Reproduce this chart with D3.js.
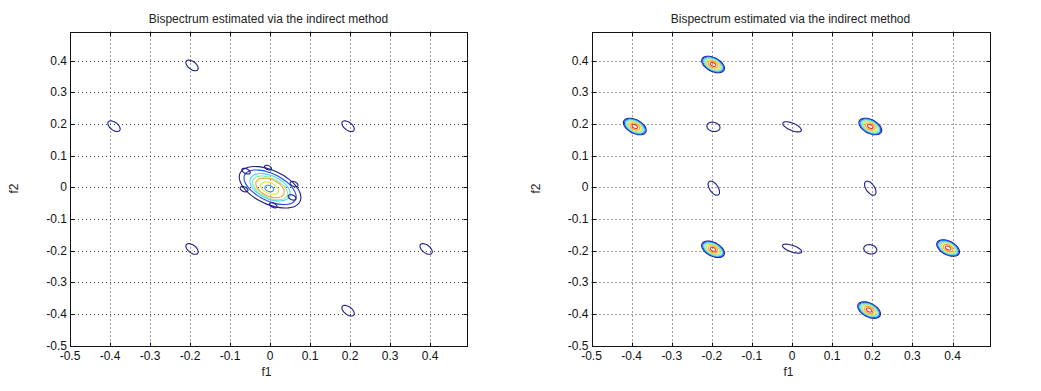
<!DOCTYPE html>
<html><head><meta charset="utf-8">
<script src="https://cdn.jsdelivr.net/npm/d3@7"></script>
<style>
body{margin:0;background:#fff;}
svg{display:block;font-family:"Liberation Sans",Arial,Helvetica,sans-serif;}
</style>
</head><body>
<svg id="chart" width="1041" height="391"></svg>
<script>
// ---------- data ----------
const freqDomain = [-0.5, 0.4921875];
const xTicks = [-0.5, -0.4, -0.3, -0.2, -0.1, 0, 0.1, 0.2, 0.3, 0.4];
const yTicks = [-0.5, -0.4, -0.3, -0.2, -0.1, 0, 0.1, 0.2, 0.3, 0.4];
const tickLabels = ["-0.5", "-0.4", "-0.3", "-0.2", "-0.1", "0", "0.1", "0.2", "0.3", "0.4"];
const titleText = "Bispectrum estimated via the indirect method";
const xLabel = "f1";
const yLabel = "f2";
// contour level colours (jet)
const levelColors = ["#1e1e8c", "#2448ff", "#3a96ff", "#40d8f8", "#86eea6", "#e2e256", "#ff9c34", "#e83a22"];

// contour rings: [f1 centre, f2 centre, semi-axis a, semi-axis b, rotation (deg, data space), level]
const leftRings = [
  // central peak
  [0.000, 0.000, 0.088, 0.050, -36, 0],
  [0.000, 0.000, 0.075, 0.040, -36, 1],
  [0.000, 0.000, 0.057, 0.034, -36, 3],
  [0.000, -0.002, 0.050, 0.029, -36, 4],
  [0.000, -0.002, 0.040, 0.025, -36, 6],
  [-0.001, -0.003, 0.025, 0.016, -36, 5],
  [-0.002, -0.004, 0.012, 0.009, -36, 2],
  // small lobes around the central peak
  [-0.060, 0.051, 0.012, 0.007, -36, 0],
  [-0.065, -0.006, 0.011, 0.007, -36, 0],
  [-0.005, 0.062, 0.010, 0.006, -36, 0],
  [0.060, 0.010, 0.011, 0.007, -36, 0],
  [0.055, -0.032, 0.011, 0.007, -36, 0],
  [0.008, -0.057, 0.011, 0.006, -36, 0],
  // weak peaks
  [-0.195, 0.385, 0.020, 0.011, -50, 0],
  [-0.390, 0.193, 0.020, 0.011, -50, 0],
  [0.195, 0.193, 0.020, 0.011, -50, 0],
  [-0.195, -0.195, 0.020, 0.011, -50, 0],
  [0.390, -0.195, 0.020, 0.011, -50, 0],
  [0.195, -0.390, 0.020, 0.011, -50, 0]
];

const strongPeaks = [[-0.197, 0.388], [-0.392, 0.192], [0.195, 0.192], [-0.197, -0.196], [0.389, -0.192], [0.192, -0.388]];
const strongRingA = [0.033, 0.030, 0.027, 0.023, 0.019, 0.014, 0.008];
const strongRingB = [0.020, 0.018, 0.016, 0.014, 0.012, 0.009, 0.005];
const strongRingLevel = [0, 1, 3, 4, 5, 6, 7];

const rightWeakRings = [
  [-0.196, 0.191, 0.017, 0.014, -30, 0],
  [0.000, 0.191, 0.026, 0.011, -30, 0],
  [-0.195, -0.003, 0.024, 0.011, -65, 0],
  [0.195, -0.003, 0.024, 0.011, -65, 0],
  [0.000, -0.194, 0.026, 0.010, -25, 0],
  [0.195, -0.196, 0.017, 0.014, -30, 0]
];

// ---------- build ----------
const rightRings = rightWeakRings.slice();
strongPeaks.forEach(p => {
  strongRingA.forEach((a, i) => rightRings.push([p[0], p[1], a, strongRingB[i], -40, strongRingLevel[i]]));
});

const svg = d3.select("#chart");
const panels = [
  {x0: 70, x1: 467, rings: leftRings},
  {x0: 591.5, x1: 989.5, rings: rightRings}
];
const plotTop = 31.5, plotBottom = 345.5;

panels.forEach(p => {
  const x = d3.scaleLinear().domain(freqDomain).range([p.x0, p.x1]);
  const y = d3.scaleLinear().domain(freqDomain).range([plotBottom, plotTop]);
  const g = svg.append("g");

  // grid (dotted)
  const grid = g.append("g").attr("stroke", "#000").attr("stroke-width", 1)
    .attr("stroke-dasharray", "1,3").attr("opacity", 0.75);
  xTicks.slice(1).forEach(t => {
    const px = Math.round(x(t)) + 0.5;
    grid.append("line").attr("x1", px).attr("x2", px).attr("y1", plotTop).attr("y2", plotBottom);
  });
  yTicks.slice(1).forEach(t => {
    const py = Math.round(y(t)) + 0.5;
    grid.append("line").attr("x1", p.x0).attr("x2", p.x1).attr("y1", py).attr("y2", py);
  });

  // contours
  const line = d3.line().x(d => x(d[0])).y(d => y(d[1])).curve(d3.curveCardinalClosed);
  const cg = g.append("g").attr("fill", "none").attr("stroke-width", 1.1);
  p.rings.forEach(r => {
    const [cx, cy, a, b, ang, lev] = r;
    const th = ang * Math.PI / 180;
    const pts = d3.range(0, 48).map(i => {
      const t = i / 48 * 2 * Math.PI;
      const u = a * Math.cos(t), v = b * Math.sin(t);
      return [cx + u * Math.cos(th) - v * Math.sin(th), cy + u * Math.sin(th) + v * Math.cos(th)];
    });
    cg.append("path").attr("d", line(pts)).attr("stroke", levelColors[lev]);
  });

  // frame
  const fx0 = Math.round(p.x0) + 0.5, fx1 = Math.round(p.x1) + 0.5;
  const fy0 = Math.round(plotTop) + 0.5, fy1 = Math.round(plotBottom) + 0.5;
  g.append("rect").attr("x", fx0).attr("y", fy0).attr("width", fx1 - fx0).attr("height", fy1 - fy0)
    .attr("fill", "none").attr("stroke", "#111").attr("stroke-width", 1);

  // ticks (inward, all sides)
  const tk = g.append("g").attr("stroke", "#111").attr("stroke-width", 1);
  xTicks.forEach(t => {
    const px = Math.round(x(t)) + 0.5;
    tk.append("line").attr("x1", px).attr("x2", px).attr("y1", fy1).attr("y2", fy1 - 4);
    tk.append("line").attr("x1", px).attr("x2", px).attr("y1", fy0).attr("y2", fy0 + 4);
  });
  yTicks.forEach(t => {
    const py = Math.round(y(t)) + 0.5;
    tk.append("line").attr("x1", fx0).attr("x2", fx0 + 4).attr("y1", py).attr("y2", py);
    tk.append("line").attr("x1", fx1).attr("x2", fx1 - 4).attr("y1", py).attr("y2", py);
  });

  // tick labels
  const lab = g.append("g").attr("font-size", 12).attr("fill", "#111");
  xTicks.forEach((t, i) => {
    lab.append("text").attr("x", x(t)).attr("y", 360).attr("text-anchor", "middle").text(tickLabels[i]);
  });
  yTicks.forEach((t, i) => {
    lab.append("text").attr("x", p.x0 - 3).attr("y", y(t) + 4).attr("text-anchor", "end").text(tickLabels[i]);
  });

  // titles / axis labels
  const cxm = (p.x0 + p.x1) / 2;
  g.append("text").attr("x", cxm).attr("y", 23).attr("text-anchor", "middle")
    .attr("font-size", 12).attr("fill", "#222").text(titleText);
  g.append("text").attr("x", cxm - 2).attr("y", 376).attr("text-anchor", "middle")
    .attr("font-size", 12).attr("fill", "#222").text(xLabel);
  g.append("text").attr("transform", `translate(${p.x0 - 52},${(plotTop + plotBottom) / 2}) rotate(-90)`)
    .attr("text-anchor", "middle").attr("font-size", 12).attr("fill", "#222").text(yLabel);
});
</script>
</body></html>
